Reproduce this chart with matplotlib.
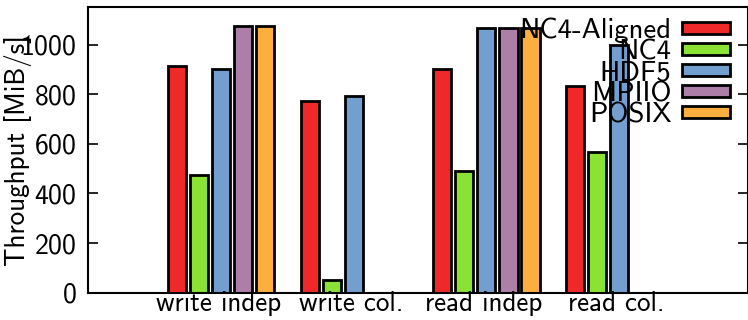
import numpy as np
import matplotlib
matplotlib.use("Agg")
import matplotlib.pyplot as plt

plt.rcParams['font.family'] = ['cmss10', 'DejaVu Sans']
plt.rcParams['axes.formatter.use_mathtext'] = True

# throughput per access pattern, MiB/s (None = not measured)
groups = ["write indep", "write col.", "read indep", "read col."]
libs = ["NC4-Aligned", "NC4", "HDF5", "MPIIO", "POSIX"]
nc4_aligned = [913, 774, 900, 832]
nc4 = [476, 53, 492, 566]
hdf5 = [903, 791, 1068, 999]
mpiio = [1074, None, 1068, None]
posix = [1074, None, 1065, None]
series = [nc4_aligned, nc4, hdf5, mpiio, posix]
colors = ["#ef2929", "#8ae234", "#729fcf", "#ad7fa8", "#fcaf3e"]

step = 0.166
width = 0.136
ind = np.arange(len(groups))

fig = plt.figure(figsize=(7.48, 3.2), dpi=100)
ax = fig.add_axes([0.1176, 0.0853, 0.8824, 0.8917])

for j, (vals, name, c) in enumerate(zip(series, libs, colors)):
    xs = [ind[i] + j * step for i, v in enumerate(vals) if v is not None]
    hs = [v for v in vals if v is not None]
    ax.bar(xs, hs, width, align='edge', color=c, edgecolor='black',
           linewidth=2, label=name)

ax.set_xlim(-0.603, 4.371)
ax.set_ylim(0, 1150)
ax.set_xticks(ind + 0.38)
ax.set_xticklabels(groups, fontsize=19.5)
ax.tick_params(axis='x', length=0, pad=-1)
ax.set_yticks(np.arange(0, 1001, 200))
ax.tick_params(axis='y', direction='in', length=7, width=1.2, labelsize=20,
               right=True, pad=8)
for s in ax.spines.values():
    s.set_linewidth(1.5)

ax.set_ylabel("Throughput [MiB/s]", fontsize=19.5)
ax.yaxis.set_label_coords(-0.085, 0.5)

ax.legend(loc='upper right', bbox_to_anchor=(0.9727, 0.9636), frameon=False,
          markerfirst=False, fontsize=20.7, labelspacing=-0.14,
          handlelength=1.68, handleheight=0.28, handletextpad=0.35,
          borderaxespad=0, borderpad=0)

fig.savefig("out.png", dpi=100)
